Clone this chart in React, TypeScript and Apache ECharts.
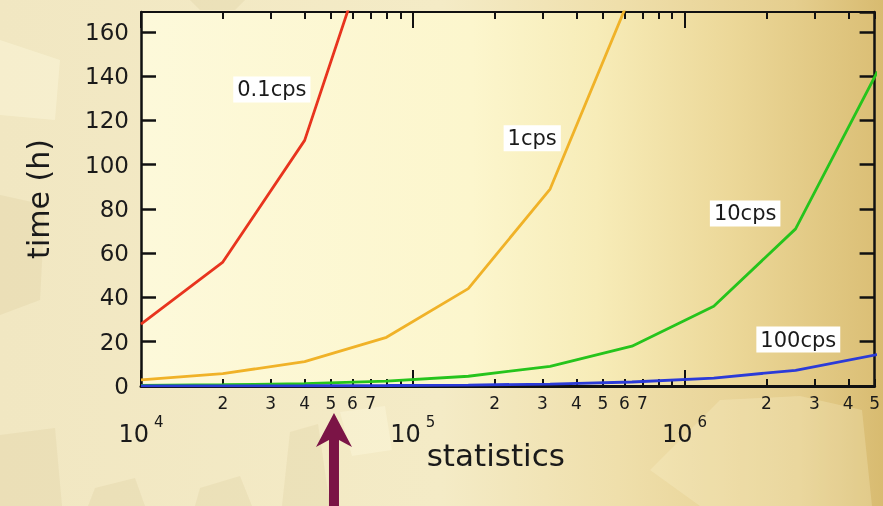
import React, { useEffect, useRef } from "react";
import * as echarts from "echarts";

// ---- data ----
const statistics = [1e4, 2e4, 4e4, 8e4, 1.6e5, 3.2e5, 6.4e5, 1.28e6, 2.56e6, 5.12e6];
const time01cps = [28, 56, 111, 222];
const time1cps = [2.8, 5.6, 11, 22, 44, 89, 178];
const time10cps = [0.28, 0.56, 1.1, 2.2, 4.4, 8.9, 18, 36, 71, 142];
const time100cps = [0.03, 0.06, 0.11, 0.22, 0.44, 0.89, 1.8, 3.6, 7.1, 14.2];

const seriesNames = ["0.1cps", "1cps", "10cps", "100cps"];
const seriesColors = ["#e8341e", "#f0b228", "#26c41c", "#2b3bd8"];
// label anchor points in data space [statistics, time]
const labelAnchors: [number, number][] = [
  [3.03e4, 134],
  [2.75e5, 112],
  [1.67e6, 78],
  [2.62e6, 21],
];

const xMin = 1e4;
const xMax = 5e6;
const yMax = 169;
const majorTicks = [1e4, 1e5, 1e6];
const minorTicks = [
  2e4, 3e4, 4e4, 5e4, 6e4, 7e4, 8e4, 9e4,
  2e5, 3e5, 4e5, 5e5, 6e5, 7e5, 8e5, 9e5,
  2e6, 3e6, 4e6, 5e6,
];
const minorLabels = [
  2e4, 3e4, 4e4, 5e4, 6e4, 7e4,
  2e5, 3e5, 4e5, 5e5, 6e5, 7e5,
  2e6, 3e6, 4e6, 5e6,
];
const arrowAt = 5e4;

const FONT = "DejaVu Sans";
const INK = "#1a1a1a";

export default function App() {
  const ref = useRef<HTMLDivElement>(null);
  useEffect(() => {
    if (!ref.current) return;
    const chart = echarts.init(ref.current, null, { renderer: "svg" });

    const lineData = [time01cps, time1cps, time10cps, time100cps];
    const tickStyle = { color: "#111", width: 2 };

    const baseX = {
      type: "log" as const,
      logBase: 10,
      min: xMin,
      max: xMax,
      splitLine: { show: false },
      axisLine: { show: false, onZero: false },
      axisTick: { show: false },
      axisLabel: { show: false },
    };

    const plotGradient = new echarts.graphic.LinearGradient(0, 0, 1, 0, [
      { offset: 0, color: "#fdf9da" },
      { offset: 0.45, color: "#fcf6cd" },
      { offset: 0.62, color: "#f7ecb8" },
      { offset: 0.8, color: "#ecd899" },
      { offset: 1, color: "#dbbf76" },
    ]);
    const pageGradient = new echarts.graphic.LinearGradient(0, 0, 1, 0, [
      { offset: 0, color: "#f1e7c2" },
      { offset: 0.5, color: "#f4ebc6" },
      { offset: 0.7, color: "#efdfab" },
      { offset: 0.9, color: "#e5ce8e" },
      { offset: 1, color: "#d8bb70" },
    ]);

    const gearDark = "rgba(200,180,120,0.14)";
    const gearLight = "rgba(255,252,225,0.35)";
    const gears = [
      { pts: [[0, 435], [55, 428], [62, 506], [0, 506]], c: gearDark },
      { pts: [[95, 488], [135, 478], [145, 506], [88, 506]], c: gearDark },
      { pts: [[200, 488], [240, 476], [252, 506], [195, 506]], c: gearDark },
      { pts: [[290, 432], [318, 424], [330, 506], [282, 506]], c: gearDark },
      { pts: [[0, 195], [45, 205], [40, 300], [0, 315]], c: gearDark },
      { pts: [[340, 412], [385, 406], [392, 450], [352, 456]], c: gearLight },
      { pts: [[0, 40], [60, 60], [55, 120], [0, 115]], c: gearLight },
      { pts: [[720, 400], [800, 396], [862, 410], [872, 506], [700, 506], [650, 470]], c: "rgba(255,250,220,0.22)" },
      { pts: [[190, 0], [245, 0], [235, 10], [200, 10]], c: gearDark },
    ];

    chart.setOption({
      animation: false,
      backgroundColor: "transparent",
      grid: { left: 141, right: 7, top: 12, bottom: 120, containLabel: false },
      xAxis: [
        {
          ...baseX,
          position: "bottom",
          axisLine: { show: true, onZero: false, lineStyle: { color: "#111", width: 3 } },
          axisTick: { show: true, inside: true, length: 16, customValues: majorTicks, lineStyle: tickStyle },
          axisLabel: {
            show: true,
            customValues: majorTicks,
            margin: 28,
            formatter: (v: number) => `{b|10}{s|${Math.round(Math.log10(v))}}`,
            rich: {
              b: { fontFamily: FONT, fontSize: 24, color: INK, verticalAlign: "bottom", lineHeight: 26 },
              s: { fontFamily: FONT, fontSize: 15, color: INK, verticalAlign: "bottom", padding: [0, 0, 17, 5] },
            },
          },
          name: "statistics",
          nameLocation: "middle",
          nameGap: 53,
          nameMoveOverlap: false,
          nameTextStyle: { fontFamily: FONT, fontSize: 31, color: INK, padding: [0, 24, 0, 0] },
        },
        {
          ...baseX,
          position: "bottom",
          axisTick: { show: true, inside: true, length: 7, customValues: minorTicks, lineStyle: tickStyle },
          axisLabel: {
            show: true,
            customValues: minorLabels,
            margin: 8,
            fontFamily: FONT,
            fontSize: 17,
            color: INK,
            formatter: (v: number) => String(Math.round(v / Math.pow(10, Math.floor(Math.log10(v) + 1e-9)))),
          },
        },
        {
          ...baseX,
          position: "top",
          axisLine: { show: true, onZero: false, lineStyle: { color: "#111", width: 2 } },
          axisTick: { show: true, inside: true, length: 16, customValues: majorTicks, lineStyle: tickStyle },
        },
        {
          ...baseX,
          position: "top",
          axisTick: { show: true, inside: true, length: 7, customValues: minorTicks, lineStyle: tickStyle },
        },
      ],
      yAxis: [
        {
          type: "value",
          position: "left",
          min: 0,
          max: yMax,
          interval: 20,
          splitLine: { show: false },
          axisLine: { show: true, lineStyle: { color: "#111", width: 2.5 } },
          axisTick: { show: true, inside: true, length: 15, lineStyle: { color: "#111", width: 2.5 } },
          axisLabel: {
            show: true,
            showMaxLabel: false,
            margin: 12,
            fontFamily: FONT,
            fontSize: 23,
            color: INK,
            formatter: (v: number) => (v % 20 === 0 ? String(v) : ""),
          },
          name: "time (h)",
          nameLocation: "middle",
          nameGap: 88,
          nameRotate: 90,
          nameTextStyle: { fontFamily: FONT, fontSize: 30, color: INK },
        },
        {
          type: "value",
          position: "right",
          min: 0,
          max: yMax,
          interval: 20,
          splitLine: { show: false },
          axisLine: { show: true, lineStyle: { color: "#111", width: 2.5 } },
          axisTick: { show: true, inside: true, length: 15, lineStyle: { color: "#111", width: 2.5 } },
          axisLabel: { show: false },
        },
      ],
      series: lineData.map((vals, i) => ({
        type: "line",
        name: seriesNames[i],
        xAxisIndex: 0,
        yAxisIndex: 0,
        data: vals.map((t, j) => [statistics[j], t]),
        symbol: "none",
        clip: true,
        lineStyle: { color: seriesColors[i], width: 2.8 },
        z: 3,
        markPoint: {
          symbol: "circle",
          symbolSize: 1,
          itemStyle: { color: "rgba(0,0,0,0)" },
          label: {
            show: true,
            position: "inside",
            formatter: seriesNames[i],
            fontFamily: FONT,
            fontSize: 21,
            lineHeight: 22,
            color: INK,
            backgroundColor: "#ffffff",
            padding: [2, 4],
          },
          data: [{ coord: labelAnchors[i] }],
        },
      })),
    });

    const grid = { x: 141, y: 12, w: 883 - 141 - 7, h: 506 - 12 - 120 };
    const ax = chart.convertToPixel({ xAxisIndex: 0 }, arrowAt) as number;
    const cx = ax + 3;

    chart.setOption({
      graphic: [
        { type: "rect", z: -30, silent: true, shape: { x: 0, y: 0, width: 883, height: 506 }, style: { fill: pageGradient } },
        ...gears.map((g) => ({
          type: "polygon",
          z: -25,
          silent: true,
          shape: { points: g.pts },
          style: { fill: g.c },
        })),
        { type: "rect", z: -20, silent: true, shape: { x: grid.x, y: grid.y, width: grid.w, height: grid.h }, style: { fill: plotGradient } },
        {
          type: "polygon",
          z: 10,
          silent: true,
          shape: {
            points: [
              [cx, 413],
              [cx + 18, 447],
              [cx + 5, 440],
              [cx + 5, 506],
              [cx - 5, 506],
              [cx - 5, 440],
              [cx - 18, 447],
            ],
          },
          style: { fill: "#7b1446" },
        },
      ],
    });

    return () => chart.dispose();
  }, []);

  return (
    <div
      ref={ref}
      style={{ position: "fixed", left: 0, top: 0, width: 883, height: 506 }}
    />
  );
}
